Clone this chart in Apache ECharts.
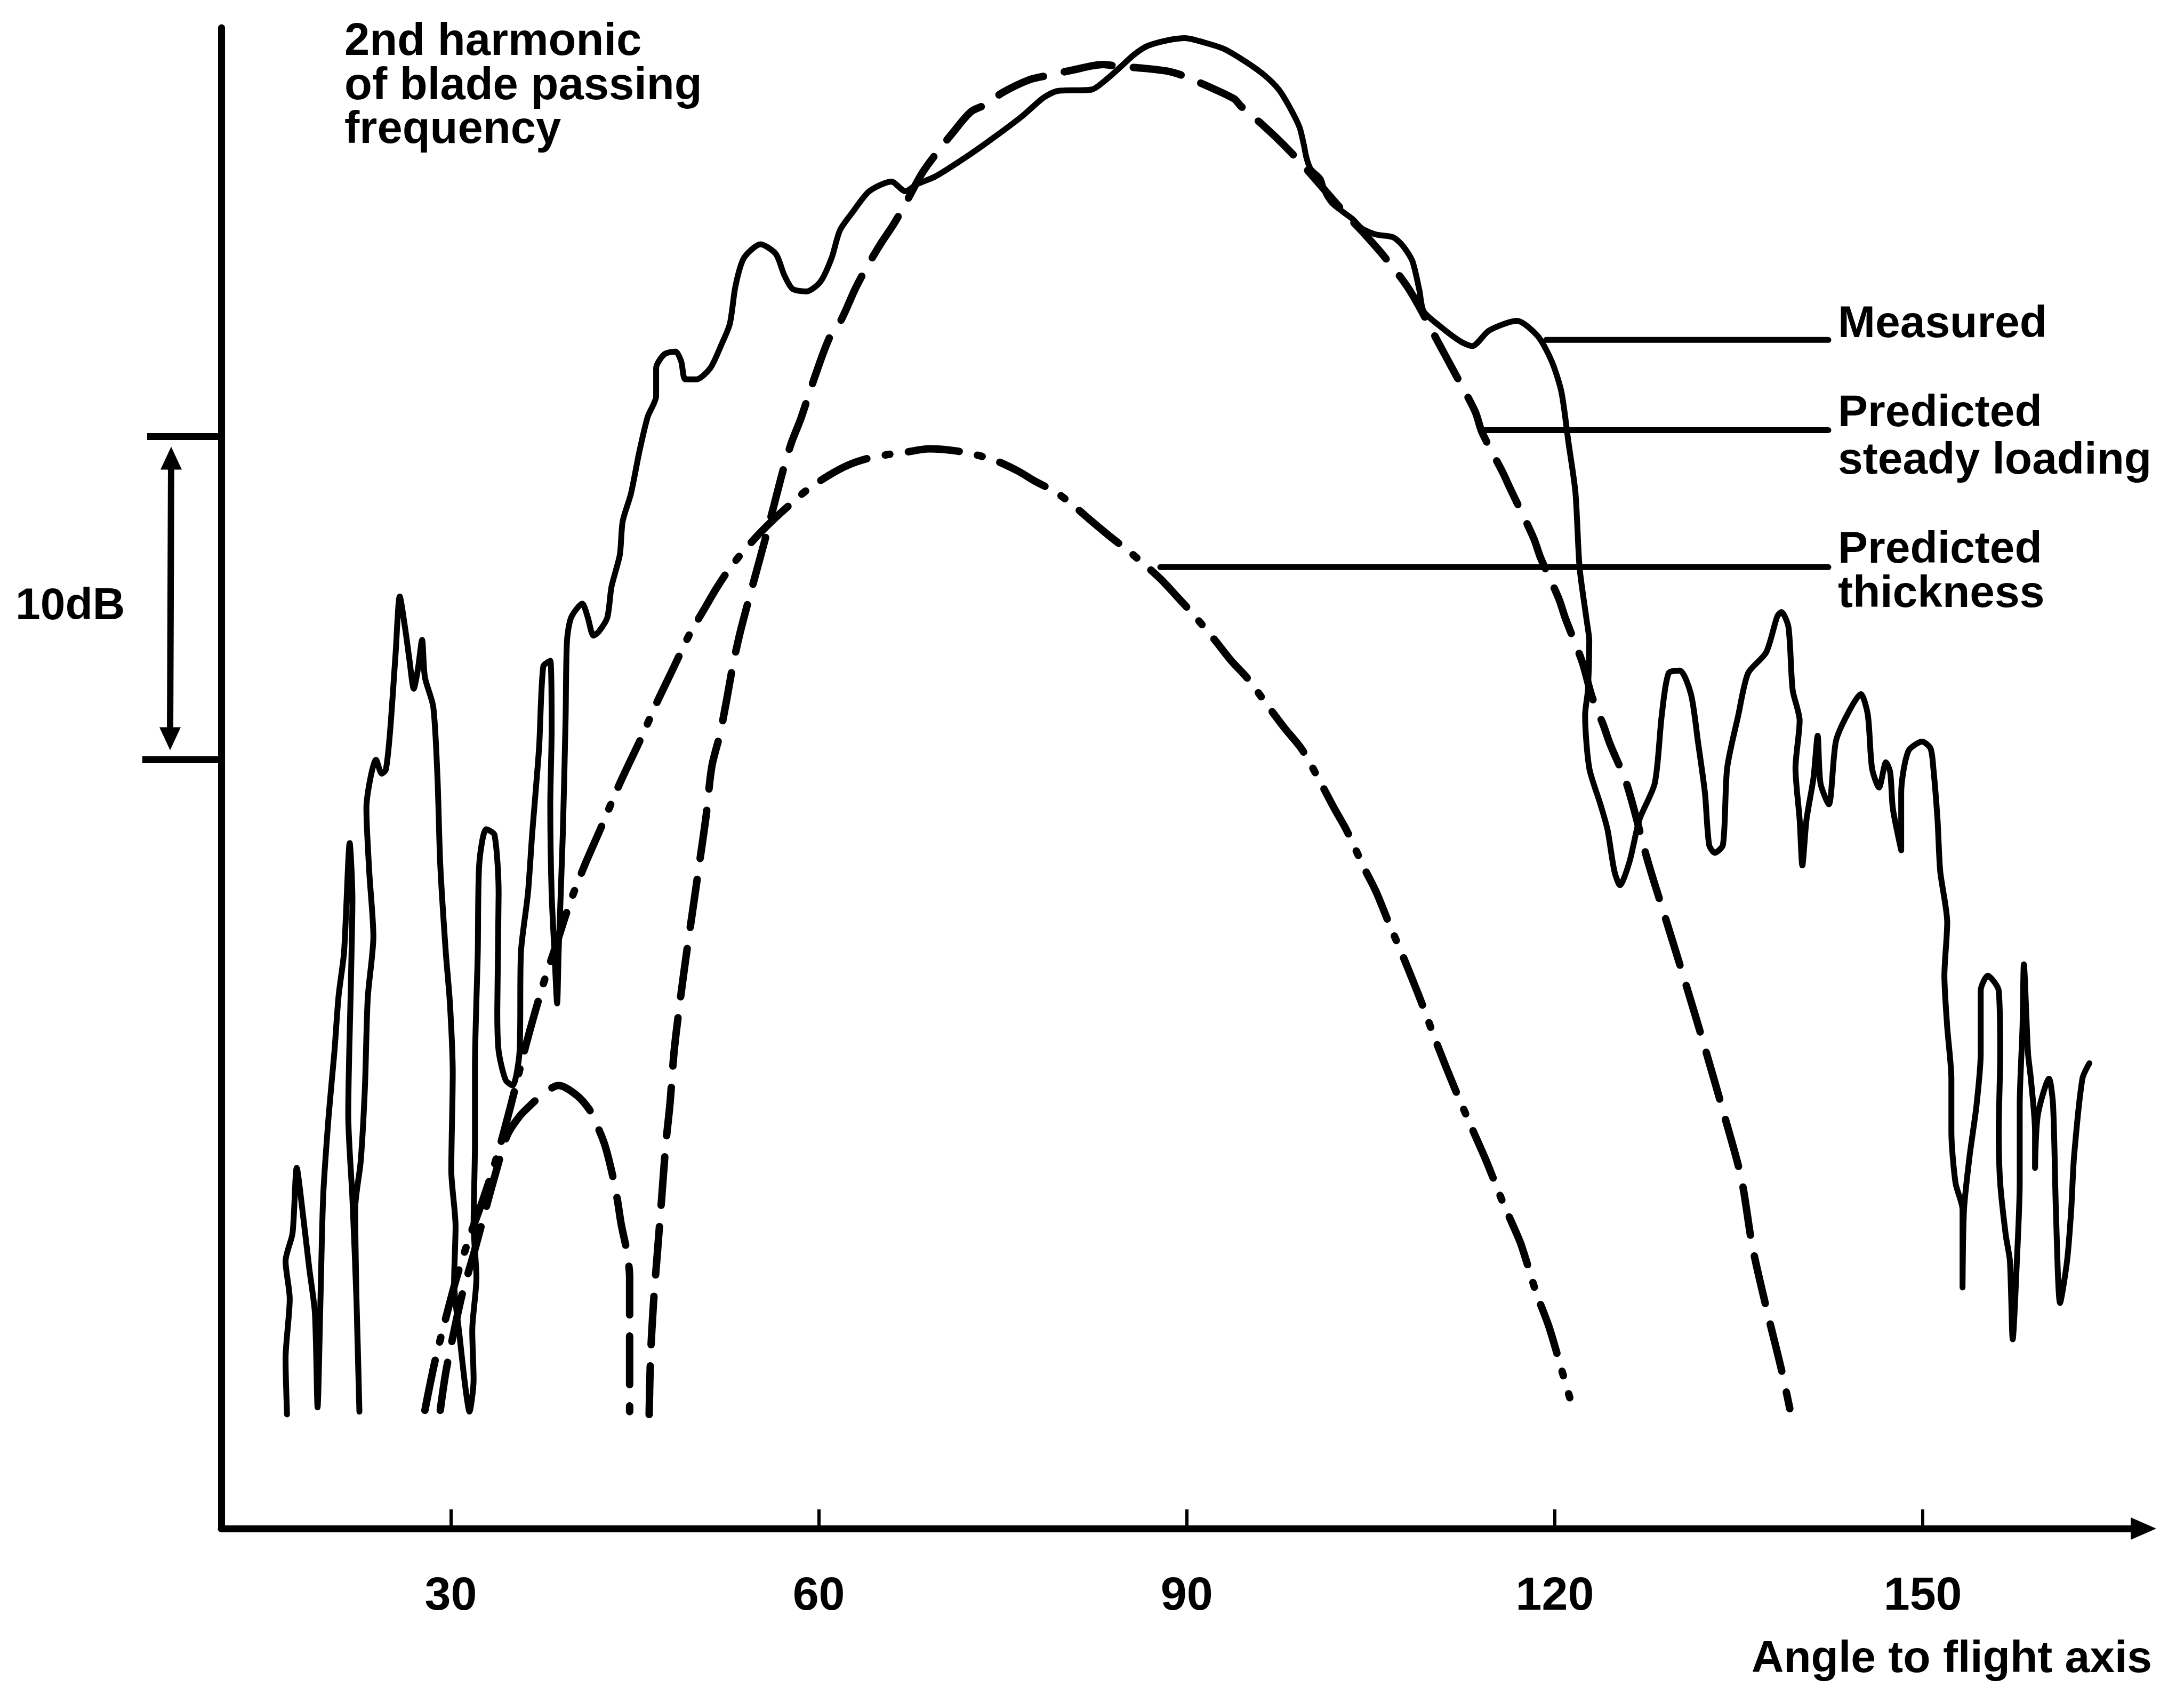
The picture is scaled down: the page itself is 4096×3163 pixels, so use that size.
<!DOCTYPE html>
<html><head><meta charset="utf-8">
<script src="https://cdn.jsdelivr.net/npm/echarts@6/dist/echarts.min.js"></script>
<style>html,body{margin:0;padding:0;background:#fff}#c{width:4096px;height:3163px}</style>
</head><body><div id="c"></div>
<script>
// Angle to flight axis (deg) ticks
const angleTicks = [30, 60, 90, 120, 150];
const xMin = 11.29, xMax = 167.99;   // axis extent in degrees
const yMin = 0, yMax = 46.44;        // relative level, dB
const scaleBarDb = [23.79, 33.79];   // the 10 dB scale bar

// [angle deg, level dB]
const measured = [[16.65,3.53],[16.53,5.26],[16.87,7.11],[16.53,8.28],[17.10,9.14],[17.44,11.16],[17.90,9.87],[18.46,8.06],[18.92,6.68],[19.14,3.75],[19.37,6.98],[19.60,10.30],[20.05,12.80],[20.51,14.74],[20.85,16.47],[21.30,17.84],[21.76,21.21],[21.98,19.48],[21.87,17.11],[21.64,12.80],[21.98,10.22],[22.32,6.98],[22.55,3.62],[22.32,6.98],[22.21,9.91],[22.66,11.38],[23.00,13.66],[23.23,16.42],[23.69,18.32],[23.35,20.34],[23.12,22.28],[23.91,23.79],[24.37,23.36],[24.71,23.49],[25.05,24.66],[25.50,27.07],[25.84,28.84],[26.30,27.80],[26.64,26.85],[26.98,25.99],[27.32,26.59],[27.66,27.50],[27.89,26.34],[28.57,25.43],[28.91,23.28],[29.14,20.56],[29.59,17.84],[29.93,16.25],[30.16,14.09],[30.04,11.08],[30.39,9.35],[30.27,7.63],[30.73,5.91],[31.18,4.40],[31.52,3.62],[31.86,4.61],[31.75,6.12],[32.09,7.76],[31.86,9.40],[31.97,11.94],[31.97,14.27],[32.20,17.84],[32.32,20.56],[32.88,21.64],[33.56,21.47],[33.90,19.66],[33.79,16.03],[33.90,14.78],[34.47,13.88],[35.04,13.71],[35.61,14.78],[35.72,17.84],[36.29,19.66],[36.63,21.47],[37.20,24.18],[37.54,26.68],[38.11,26.85],[38.22,24.70],[38.11,22.37],[38.22,19.66],[38.45,17.84],[38.67,16.25],[38.79,17.84],[39.13,21.47],[39.36,25.09],[39.47,27.46],[39.81,28.19],[40.72,28.62],[41.17,28.19],[41.63,27.63],[42.08,27.76],[42.76,28.19],[43.10,29.14],[43.78,30.13],[44.01,31.16],[44.69,32.03],[45.37,33.32],[46.05,34.40],[46.74,35.04],[46.74,35.91],[47.42,36.34],[48.33,36.42],[48.78,36.12],[49.12,35.56],[50.03,35.56],[51.16,35.91],[52.07,36.64],[52.75,37.28],[53.21,38.45],[53.89,39.31],[55.25,39.74],[56.50,39.44],[57.18,38.79],[57.86,38.36],[59.00,38.28],[60.13,38.58],[61.04,39.31],[61.72,40.17],[62.75,40.73],[64.11,41.38],[65.92,41.68],[67.06,41.38],[67.97,41.59],[69.56,41.85],[72.40,42.54],[74.33,43.06],[76.60,43.71],[78.30,44.27],[79.44,44.48],[82.28,44.53],[83.41,44.83],[84.32,45.13],[85.68,45.60],[86.82,45.88],[88.52,46.06],[89.88,46.12],[91.36,45.99],[93.06,45.78],[94.99,45.34],[96.36,44.96],[97.49,44.53],[98.40,43.97],[99.19,43.36],[99.53,42.84],[99.76,42.41],[100.10,42.07],[100.90,41.77],[101.24,41.38],[101.81,41.03],[102.60,40.78],[103.51,40.52],[104.30,40.22],[105.44,40.04],[106.80,39.96],[107.60,39.70],[108.39,39.22],[108.96,38.32],[109.30,37.67],[110.66,37.20],[112.37,36.72],[113.27,36.59],[114.64,37.07],[116.91,37.37],[118.61,36.90],[119.75,36.12],[120.54,35.17],[121.11,33.62],[121.68,32.07],[122.02,29.74],[122.58,28.15],[122.81,27.46],[122.70,25.95],[122.47,25.17],[122.81,23.53],[123.72,22.41],[124.29,21.64],[124.86,20.34],[125.31,19.91],[126.10,20.65],[126.90,21.94],[128.15,23.06],[128.72,25.17],[129.28,26.47],[130.19,26.55],[131.10,25.82],[131.67,24.35],[132.24,22.76],[132.58,21.16],[133.03,20.91],[133.71,21.16],[134.05,23.53],[134.96,25.17],[135.76,26.47],[137.23,27.11],[138.14,28.23],[138.48,28.36],[139.05,27.89],[139.39,25.95],[139.96,25.00],[139.62,23.53],[139.96,21.94],[140.18,20.52],[140.52,21.94],[141.09,23.23],[141.43,24.53],[141.66,23.06],[142.34,22.41],[142.91,24.35],[143.82,25.17],[144.95,25.82],[145.52,25.17],[145.86,23.53],[146.43,22.93],[147.00,23.71],[147.34,23.41],[147.56,22.28],[148.24,20.99],[148.24,22.76],[148.81,24.05],[149.95,24.35],[150.63,24.14],[150.86,23.53],[151.20,21.94],[151.42,20.34],[151.99,18.75],[151.76,17.11],[151.99,15.52],[152.33,13.92],[152.33,12.28],[152.67,10.69],[153.24,9.87],[153.24,7.46],[153.36,9.87],[153.81,11.51],[154.38,13.10],[154.72,14.70],[154.72,16.64],[155.29,17.11],[156.19,16.64],[156.31,14.70],[156.19,12.28],[156.31,10.69],[156.76,9.09],[157.10,8.28],[157.33,5.86],[157.67,8.28],[157.90,10.69],[157.90,13.10],[158.13,15.52],[158.24,17.46],[158.58,14.70],[158.81,13.92],[159.15,12.28],[159.15,11.16],[159.38,12.80],[160.29,13.92],[160.62,13.10],[160.85,9.87],[161.19,6.98],[161.76,8.28],[162.10,9.87],[162.33,11.51],[163.01,13.92],[163.58,14.40]];

const loadingSideLobe = [[29.14,3.66],[29.59,4.83],[30.27,6.12],[30.95,7.28],[31.86,8.49],[32.77,9.78],[33.68,11.03],[34.59,12.16],[35.61,12.76],[36.63,13.15],[37.65,13.49],[38.79,13.71],[40.26,13.41],[41.29,12.97],[41.85,12.54],[42.53,11.90],[43.10,11.08],[43.56,10.22],[43.90,9.40],[44.35,8.58],[44.58,7.76],[44.58,6.51],[44.58,5.26],[44.58,3.62]];

const loadingMainLobe = [[46.17,3.53],[46.28,5.26],[46.51,6.90],[46.85,8.58],[47.19,10.22],[47.53,11.90],[47.87,13.15],[48.21,14.78],[48.67,16.25],[49.12,17.54],[49.69,19.05],[50.26,20.56],[50.82,22.07],[51.28,23.58],[51.96,24.61],[52.53,25.73],[52.98,26.68],[53.55,27.67],[54.23,28.66],[54.91,29.61],[55.59,30.56],[56.27,31.55],[57.07,32.72],[57.75,33.58],[58.54,34.35],[59.45,35.39],[60.82,36.81],[61.84,37.41],[62.97,38.36],[63.88,39.01],[65.02,39.74],[66.15,40.39],[67.29,41.16],[68.42,41.94],[69.56,42.54],[70.92,43.19],[72.40,43.84],[73.53,44.05],[75.01,44.44],[77.17,44.83],[78.64,44.96],[80.69,45.13],[83.18,45.30],[84.55,45.24],[86.36,45.19],[88.52,45.09],[89.66,44.96],[91.59,44.65],[93.86,44.24],[94.42,44.01],[96.13,43.45],[97.83,42.84],[99.53,42.16],[101.12,41.47],[102.83,40.73],[104.53,40.04],[106.01,39.40],[108.16,38.32],[110.66,36.59],[111.57,35.95],[113.50,34.57],[114.07,33.92],[115.77,32.67],[116.34,32.20],[118.27,30.65],[118.84,30.04],[120.31,28.79],[120.88,28.15],[122.24,26.81],[123.04,25.73],[123.95,24.87],[124.51,24.27],[125.88,23.02],[127.58,20.65],[129.06,18.84],[130.71,16.81],[132.24,14.87],[133.71,12.93],[135.19,10.86],[136.10,8.75],[137.23,6.85],[138.48,4.91],[139.16,3.71]];

const thickness = [[27.89,3.66],[28.68,5.13],[29.59,6.51],[30.50,7.80],[31.52,9.01],[32.66,10.22],[33.79,11.55],[34.93,13.15],[36.18,15.04],[37.54,16.85],[38.67,18.15],[39.70,19.35],[40.95,20.56],[42.19,21.64],[43.78,23.06],[45.49,24.44],[46.85,25.60],[48.10,26.59],[49.46,27.67],[50.60,28.41],[51.73,29.14],[52.87,29.78],[54.00,30.30],[55.14,30.78],[56.39,31.25],[57.64,31.68],[59.11,32.16],[60.82,32.59],[62.29,32.89],[63.88,33.10],[65.58,33.23],[67.29,33.32],[68.99,33.41],[70.92,33.36],[72.74,33.23],[74.33,33.06],[76.26,32.72],[77.62,32.41],[79.32,32.07],[80.80,31.64],[82.28,31.16],[83.64,30.73],[85.34,30.22],[86.71,29.78],[87.95,29.35],[89.20,28.84],[90.45,28.32],[92.27,27.50],[93.63,26.85],[94.99,26.29],[96.58,25.47],[97.95,24.78],[99.42,24.09],[101.12,22.93],[102.03,22.28],[103.05,21.59],[104.42,20.47],[105.44,19.70],[106.46,18.75],[107.71,17.63],[109.07,16.34],[110.43,14.96],[111.80,13.66],[113.16,12.46],[114.41,11.38],[115.77,10.09],[116.57,9.40],[117.25,8.79],[118.50,7.28],[119.52,6.25],[120.66,4.78],[121.22,4.05]];

// leader lines from each curve to its label
const measuredLeader = [[119.29,36.78],[142.30,36.78]];
const loadingLeader = [[114.18,33.99],[142.30,33.99]];
const thicknessLeader = [[87.84,29.75],[142.30,29.75]];

const FONT = '"Liberation Sans", Arial, Helvetica, sans-serif';
const INK = '#000';

const chart = echarts.init(document.getElementById('c'), null, {renderer: 'canvas', width: 4096, height: 3163});

const curve = (name, data, width, type, extra) => Object.assign({
  name, type: 'line', data, symbol: 'none', silent: true, animation: false,
  lineStyle: {color: INK, width, type, cap: 'round', join: 'round'}
}, extra || {});

chart.setOption({
  backgroundColor: '#fff',
  animation: false,
  grid: {left: 415, right: 76, top: 52, bottom: 297, containLabel: false, outerBoundsMode: 'none'},
  xAxis: {
    type: 'value', min: xMin, max: xMax,
    axisLine: {show: true, lineStyle: {color: INK, width: 13}, symbol: ['none', 'triangle'], symbolSize: [42, 48]},
    axisTick: {show: true, inside: true, length: 36, lineStyle: {color: INK, width: 6}, customValues: angleTicks},
    axisLabel: {show: true, customValues: angleTicks, color: INK, fontSize: 88, fontWeight: 'bold', fontFamily: FONT, margin: 84},
    splitLine: {show: false}
  },
  yAxis: {
    type: 'value', min: yMin, max: yMax,
    axisLine: {show: true, lineStyle: {color: INK, width: 13}},
    axisTick: {show: false}, axisLabel: {show: false}, splitLine: {show: false}
  },
  series: [
    curve('Measured', measured, 11, 'solid', {smooth: 0.25}),
    curve('Predicted steady loading (side lobe)', loadingSideLobe, 14, [91, 40], {smooth: 0.3}),
    curve('Predicted steady loading', loadingMainLobe, 14, [91, 40], {smooth: 0.3}),
    curve('Predicted thickness', thickness, 14, [96, 35, 9, 35], {smooth: 0.3}),
    curve('Measured leader', measuredLeader, 11, 'solid'),
    curve('Loading leader', loadingLeader, 11, 'solid'),
    curve('Thickness leader', thicknessLeader, 11, 'solid')
  ]
});

const yTop = chart.convertToPixel({yAxisIndex: 0}, scaleBarDb[1]);
const yBot = chart.convertToPixel({yAxisIndex: 0}, scaleBarDb[0]);
const axisLeft = chart.convertToPixel({xAxisIndex: 0}, xMin);

const txt = (text, x, y, size, align) => ({
  type: 'text', x, y, z: 100,
  style: {text, fill: INK, font: 'bold ' + size + 'px ' + FONT, align: align || 'left', verticalAlign: 'middle'}
});

chart.setOption({
  graphic: [
    {type: 'line', shape: {x1: 276, y1: yTop, x2: axisLeft, y2: yTop}, style: {stroke: INK, lineWidth: 13}},
    {type: 'line', shape: {x1: 267, y1: yBot, x2: axisLeft, y2: yBot}, style: {stroke: INK, lineWidth: 13}},
    {type: 'line', shape: {x1: 321, y1: yTop + 50, x2: 319, y2: yBot - 50}, style: {stroke: INK, lineWidth: 12}},
    {type: 'polygon', shape: {points: [[321, yTop + 19], [301, yTop + 62], [341, yTop + 62]]}, style: {fill: INK}},
    {type: 'polygon', shape: {points: [[319, yBot - 18], [299, yBot - 61], [339, yBot - 61]]}, style: {fill: INK}},
    txt('10dB', 29, 1138, 84),
    txt('2nd harmonic', 646, 80, 85),
    txt('of blade passing', 646, 163, 85),
    txt('frequency', 646, 245, 85),
    txt('Measured', 3447, 609, 84),
    txt('Predicted', 3447, 776, 84),
    txt('steady loading', 3447, 865, 84),
    txt('Predicted', 3447, 1032, 84),
    txt('thickness', 3447, 1115, 84),
    txt('Angle to flight axis', 4036, 3112, 84, 'right')
  ]
});
</script>
</body></html>
